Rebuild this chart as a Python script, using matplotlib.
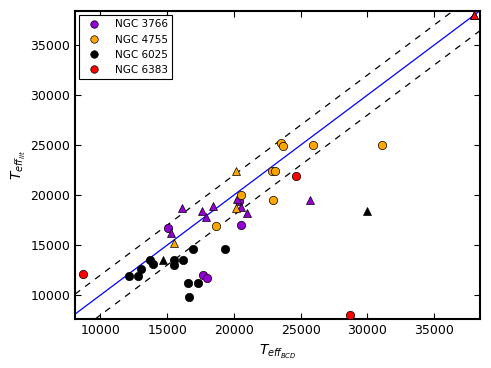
import matplotlib
matplotlib.use("Agg")
import matplotlib.pyplot as plt
import numpy as np

# NGC 3766 (purple)
n3766_circ_x = [15050, 20400, 20500, 17700, 18000]
n3766_circ_y = [16750, 19400, 17050, 12050, 11700]
n3766_tri_x = [16100, 15300, 17600, 17900, 18400, 20250, 20500, 21000, 25700, 38000]
n3766_tri_y = [18700, 16250, 18400, 17800, 18950, 19600, 18800, 18250, 19500, 38000]
# NGC 4755 (orange)
n4755_circ_x = [23500, 23700, 25900, 31100, 22850, 23050, 22900, 20550, 18650]
n4755_circ_y = [25250, 24950, 25000, 25000, 22450, 22450, 19500, 20000, 16900]
n4755_tri_x = [20150, 20150, 15500]
n4755_tri_y = [22450, 18750, 15200]
# NGC 6025 (black)
n6025_circ_x = [12150, 12800, 13050, 13700, 13950, 15500, 15500, 16200, 16950, 19350, 16550, 17300, 16650]
n6025_circ_y = [11900, 11900, 12600, 13550, 13100, 13550, 13050, 13550, 14650, 14650, 11200, 11200, 9850]
n6025_tri_x = [14700, 30000]
n6025_tri_y = [13550, 18450]
# NGC 6383 (red)
n6383_circ_x = [8700, 24650, 28700]
n6383_circ_y = [12150, 21950, 8000]
n6383_tri_x = [38000]
n6383_tri_y = [38000]

labels = ["NGC 3766", "NGC 4755", "NGC 6025", "NGC 6383"]
colors = ["#9400D3", "orange", "black", "red"]
circ = [(n3766_circ_x, n3766_circ_y), (n4755_circ_x, n4755_circ_y),
        (n6025_circ_x, n6025_circ_y), (n6383_circ_x, n6383_circ_y)]
tri = [(n3766_tri_x, n3766_tri_y), (n4755_tri_x, n4755_tri_y),
       (n6025_tri_x, n6025_tri_y), (n6383_tri_x, n6383_tri_y)]
offset = 2000

fig = plt.figure(figsize=(4.91, 3.68), dpi=100)
ax = fig.add_axes([0.153, 0.133, 0.825, 0.837])

for (cx, cy), (tx, ty), lab, col in zip(circ, tri, labels, colors):
    ax.plot(cx, cy, 'o', color=col, mec='black', mew=0.5, ms=6, label=lab, zorder=3)
    ax.plot(tx, ty, '^', color=col, mec='black', mew=0.5, ms=6, zorder=3)

ax.axline((0, 0), slope=1, color='blue', lw=0.9, zorder=2)
ax.axline((0, offset), slope=1, color='black', lw=0.9, ls=(0, (5, 5)), zorder=2)
ax.axline((0, -offset), slope=1, color='black', lw=0.9, ls=(0, (5, 5)), zorder=2)

ax.set_xlim(8100, 38450)
ax.set_ylim(7600, 38400)
ax.set_xticks([10000, 15000, 20000, 25000, 30000, 35000])
ax.set_yticks([10000, 15000, 20000, 25000, 30000, 35000])
ax.tick_params(direction='in', top=True, right=True, labelsize=9, length=4, width=0.8)
for s in ax.spines.values():
    s.set_linewidth(1.5)

ax.set_xlabel(r'$T_{eff_{BCD}}$', fontsize=10)
ax.set_ylabel(r'$T_{eff_{lit}}$', fontsize=10, labelpad=2)

leg = ax.legend(loc='upper left', numpoints=1, fontsize=7.5, fancybox=False,
                edgecolor='black', framealpha=1, handletextpad=1.0,
                borderaxespad=0.4, labelspacing=0.5, markerscale=0.9)
leg.get_frame().set_linewidth(0.8)

fig.savefig('out.png', dpi=100, facecolor='white')
